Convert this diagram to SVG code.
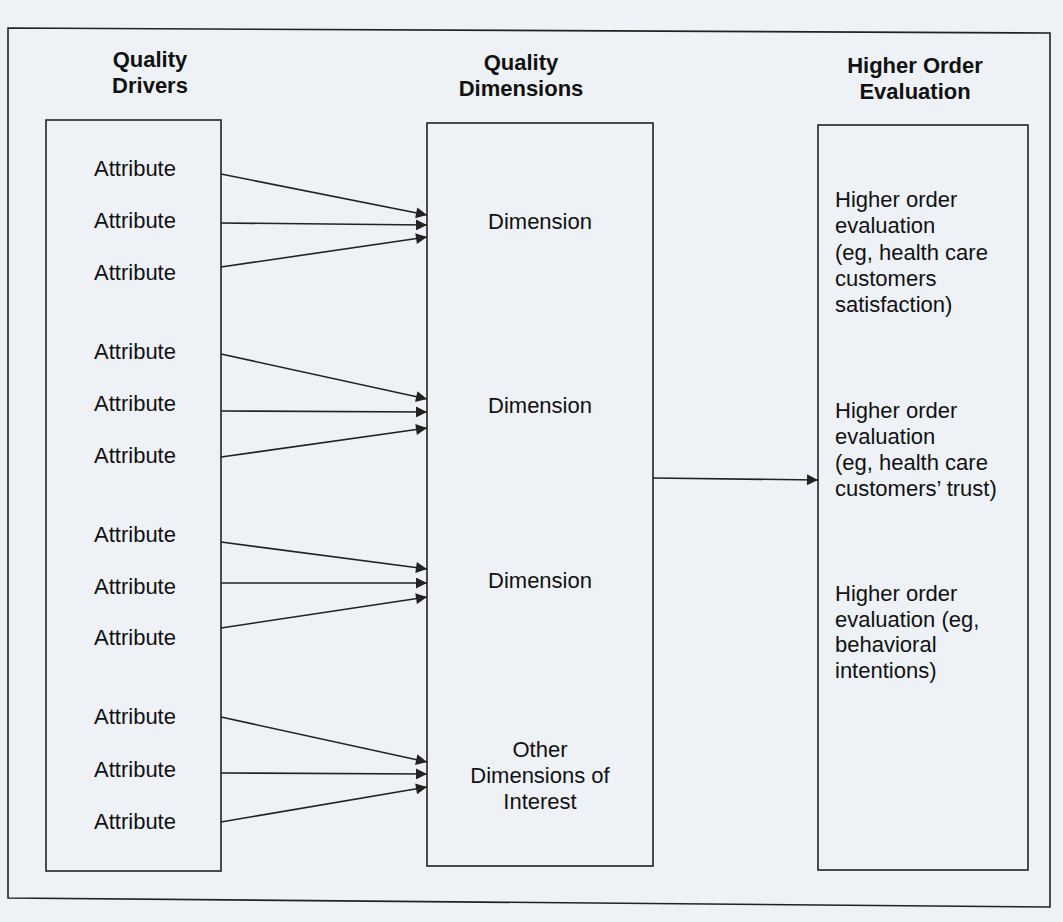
<svg xmlns="http://www.w3.org/2000/svg" width="1063" height="922" viewBox="0 0 1063 922">
<defs>
<marker id="ah" viewBox="0 0 10 10" refX="10" refY="5" markerWidth="14" markerHeight="11" markerUnits="userSpaceOnUse" orient="auto"><path d="M0,0 L10,5 L0,10 z" fill="#222"/></marker>
<style>
.box{fill:none;stroke:#222;stroke-width:1.6}
.hd{font-family:"Liberation Sans",Arial,sans-serif;font-weight:bold;font-size:22px;fill:#111;text-anchor:middle}
.t{font-family:"Liberation Sans",Arial,sans-serif;font-size:22px;fill:#111}
.c{text-anchor:middle}
.ln{stroke:#222;stroke-width:1.6;fill:none;marker-end:url(#ah)}
</style>
</defs>
<rect width="1063" height="922" fill="#eef1f6"/>
<polygon points="8,28 1050,33 1050,907 8,898" class="box"/>
<g id="headers">
<text class="hd" x="150" y="67">Quality</text>
<text class="hd" x="150" y="93">Drivers</text>
<text class="hd" x="521" y="70">Quality</text>
<text class="hd" x="521" y="96">Dimensions</text>
<text class="hd" x="915" y="73">Higher Order</text>
<text class="hd" x="915" y="99">Evaluation</text>
</g>
<g id="drivers">
<rect class="box" x="46" y="120" width="175" height="751"/>
<text class="t c" x="135" y="176">Attribute</text>
<text class="t c" x="135" y="228">Attribute</text>
<text class="t c" x="135" y="280">Attribute</text>
<text class="t c" x="135" y="359">Attribute</text>
<text class="t c" x="135" y="411">Attribute</text>
<text class="t c" x="135" y="463">Attribute</text>
<text class="t c" x="135" y="542">Attribute</text>
<text class="t c" x="135" y="594">Attribute</text>
<text class="t c" x="135" y="645">Attribute</text>
<text class="t c" x="135" y="724">Attribute</text>
<text class="t c" x="135" y="777">Attribute</text>
<text class="t c" x="135" y="829">Attribute</text>
</g>
<g id="dimensions">
<rect class="box" x="427" y="123" width="226" height="743"/>
<text class="t c" x="540" y="229">Dimension</text>
<text class="t c" x="540" y="413">Dimension</text>
<text class="t c" x="540" y="588">Dimension</text>
<text class="t c" x="540" y="757">Other</text>
<text class="t c" x="540" y="783">Dimensions of</text>
<text class="t c" x="540" y="809">Interest</text>
</g>
<g id="evaluation">
<rect class="box" x="818" y="125" width="210" height="745"/>
<text class="t" x="835" y="207">Higher order</text>
<text class="t" x="835" y="233">evaluation</text>
<text class="t" x="835" y="260">(eg, health care</text>
<text class="t" x="835" y="286">customers</text>
<text class="t" x="835" y="312">satisfaction)</text>
<text class="t" x="835" y="418">Higher order</text>
<text class="t" x="835" y="444">evaluation</text>
<text class="t" x="835" y="470">(eg, health care</text>
<text class="t" x="835" y="496">customers’ trust)</text>
<text class="t" x="835" y="601">Higher order</text>
<text class="t" x="835" y="627">evaluation (eg,</text>
<text class="t" x="835" y="652">behavioral</text>
<text class="t" x="835" y="678">intentions)</text>
</g>
<g id="connectors">
<line class="ln" x1="221" y1="174" x2="427" y2="215"/>
<line class="ln" x1="221" y1="223" x2="427" y2="225"/>
<line class="ln" x1="221" y1="267" x2="427" y2="237"/>
<line class="ln" x1="221" y1="354" x2="427" y2="399"/>
<line class="ln" x1="221" y1="411" x2="427" y2="412"/>
<line class="ln" x1="221" y1="457" x2="427" y2="428"/>
<line class="ln" x1="221" y1="542" x2="427" y2="569"/>
<line class="ln" x1="221" y1="583" x2="427" y2="583"/>
<line class="ln" x1="221" y1="628" x2="427" y2="597"/>
<line class="ln" x1="221" y1="717" x2="427" y2="762"/>
<line class="ln" x1="221" y1="773" x2="427" y2="774"/>
<line class="ln" x1="221" y1="822" x2="427" y2="787"/>
<line class="ln" x1="653" y1="478" x2="818" y2="480"/>
</g>
</svg>
